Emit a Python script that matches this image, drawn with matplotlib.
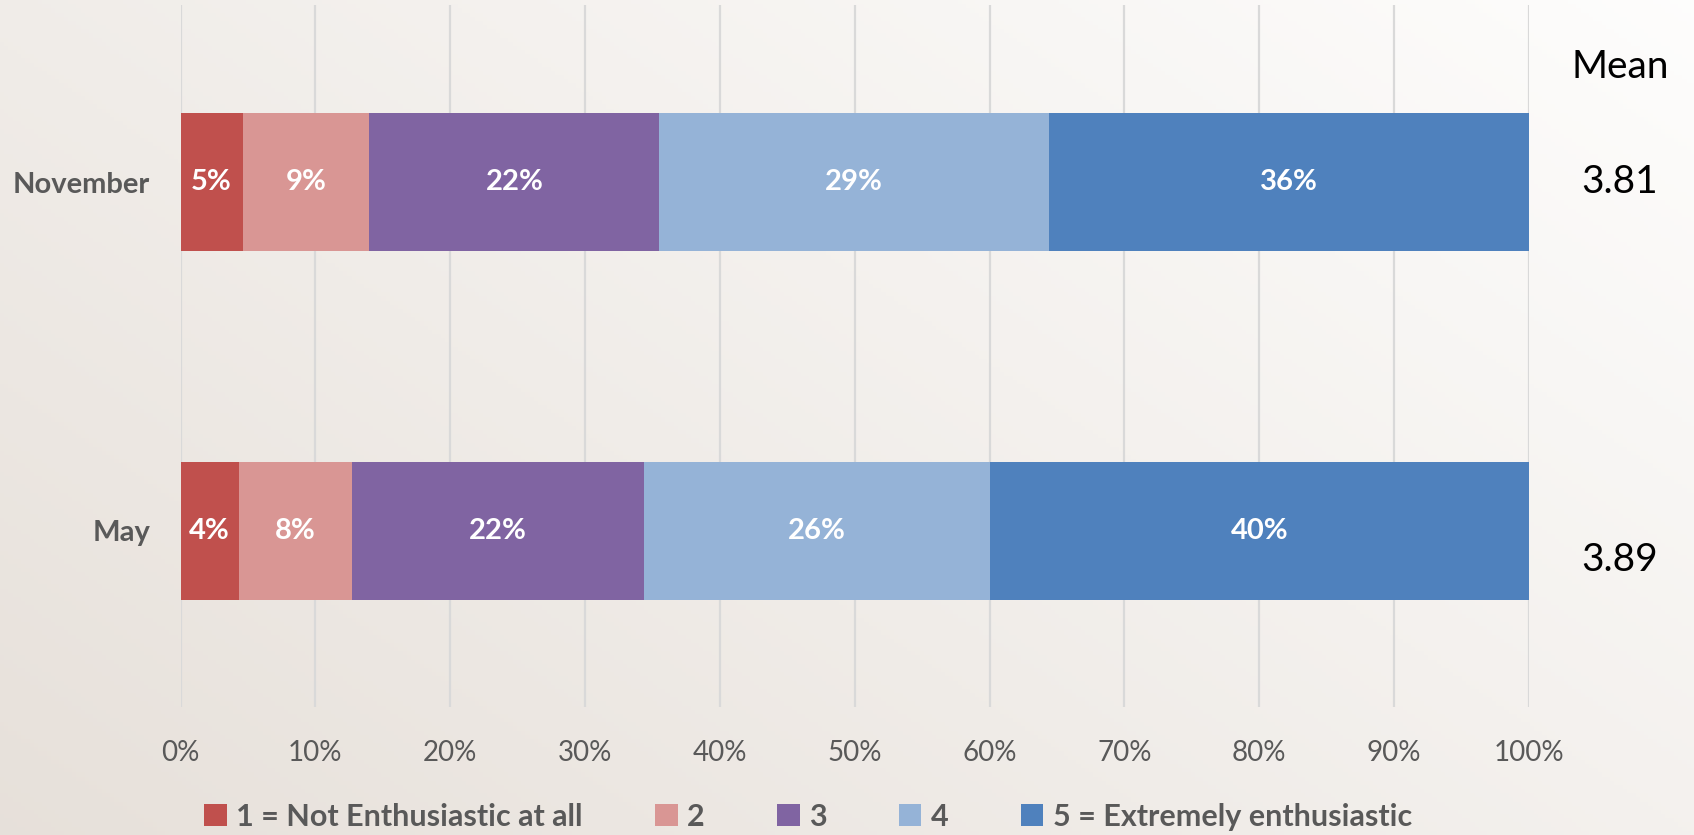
import matplotlib
matplotlib.use('Agg')
import matplotlib.pyplot as plt
import numpy as np
from matplotlib.patches import Patch

# data
months = ['May', 'November']
levels = ['1 = Not Enthusiastic at all', '2', '3', '4', '5 = Extremely enthusiastic']
shares = {
    'May':      [4.3, 8.4, 21.7, 25.6, 40.0],
    'November': [4.6, 9.4, 21.5, 28.9, 35.6],
}
labels = {
    'May':      ['4%', '8%', '22%', '26%', '40%'],
    'November': ['5%', '9%', '22%', '29%', '36%'],
}
means = {'May': '3.89', 'November': '3.81'}
colors = ['#C0504D', '#D99694', '#8064A2', '#95B3D7', '#4F81BD']

FONT = ['Lato', 'DejaVu Sans']
GREY = '#595959'
plt.rcParams['font.family'] = FONT

fig = plt.figure(figsize=(16.94, 8.35), dpi=100)

# warm gradient background (darker bottom-left, white top-right)
bg = fig.add_axes([0, 0, 1, 1], zorder=-10)
yy, xx = np.mgrid[0:1:200j, 0:1:400j]
t = np.clip((xx * 0.75 + (1 - yy) * 0.55), 0, 1.3) / 1.3
c0 = np.array([0.905, 0.880, 0.855])
c1 = np.array([0.995, 0.993, 0.990])
img = c0[None, None, :] * (1 - t[..., None]) + c1[None, None, :] * t[..., None]
bg.imshow(img, aspect='auto', extent=[0, 1, 0, 1], origin='upper')
bg.axis('off')

ax = fig.add_axes([0.1066, 0.1533, 0.7960, 0.8407])
ax.patch.set_alpha(0)

bar_h = 0.396
mean_x = 1.0675
for i, m in enumerate(months):
    left = 0.0
    for j, v in enumerate(shares[m]):
        ax.barh(i, v, left=left, height=bar_h, color=colors[j], zorder=3)
        ax.text(left + v / 2, i, labels[m][j], ha='center', va='center',
                color='white', fontsize=21, fontweight='bold', zorder=4)
        left += v
    # May's mean sits a little below its bar
    ax.text(mean_x, i - (0.083 if m == 'May' else 0.0), means[m],
            transform=ax.get_yaxis_transform(),
            ha='center', va='center', fontsize=28, color='black')

ax.text(mean_x, 1.331, 'Mean', transform=ax.get_yaxis_transform(),
        ha='center', va='center', fontsize=28, color='black')

ax.set_xlim(0, 100)
ax.set_ylim(-0.505, 1.509)
ax.set_xticks(np.arange(0, 101, 10))
ax.set_xticklabels([f'{v}%' for v in range(0, 101, 10)], fontsize=20, color=GREY)
ax.set_yticks(range(len(months)))
ax.set_yticklabels(months, fontsize=21, fontweight='bold', color=GREY)
ax.tick_params(axis='x', length=0, pad=24)
ax.tick_params(axis='y', length=0, pad=22)
ax.grid(axis='x', color='#d9d9d9', linewidth=1.6, zorder=0)
for s in ax.spines.values():
    s.set_visible(False)

handles = [Patch(facecolor=c, edgecolor='none') for c in colors]
leg = fig.legend(handles, levels, loc='center', bbox_to_anchor=(0.477, 0.022),
                 ncol=5, frameon=False, handlelength=0.75, handleheight=0.75,
                 handletextpad=0.3, columnspacing=2.36,
                 prop={'family': FONT, 'size': 22, 'weight': 'bold'})
for txt in leg.get_texts():
    txt.set_color(GREY)

fig.savefig('out.png', dpi=100)
